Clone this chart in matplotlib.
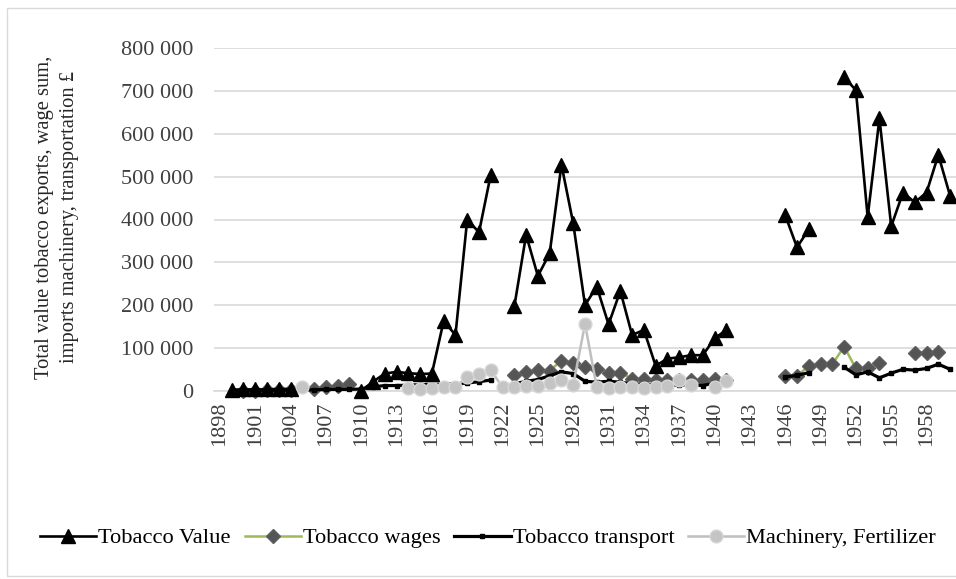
# Recreacion del grafico de exportaciones de tabaco (valor, salarios, transporte, maquinaria)

import numpy as np
import matplotlib.pyplot as plt
from matplotlib.patches import Rectangle
from matplotlib.ticker import FuncFormatter

nan = np.nan

# datos, un valor por año (1898-1960)
years = list(range(1898, 1961))

tobacco_value = [nan, 2000, 3000, 3000, 3000, 4000, 4000,            # 1898-1904
                 nan, nan, nan, nan, nan,                            # 1905-1909
                 0, 21000, 40000, 44000, 41000, 39000, 40000,        # 1910-1916
                 163000, 130000, 400000, 370000, 505000, nan,        # 1917-1922
                 197000, 364000, 268000, 321000, 528000, 391000,     # 1923-1928
                 200000, 243000, 155000, 233000, 130000, 142000,     # 1929-1934
                 58000, 75000, 78000, 83000, 83000, 122000, 142000,  # 1935-1941
                 nan, nan, nan, nan,                                 # 1942-1945
                 410000, 335000, 377000, nan, nan,                   # 1946-1950
                 733000, 702000, 406000, 636000, 384000,             # 1951-1955
                 463000, 440000, 463000, 551000, 455000]             # 1956-1960

tobacco_wages = [nan, nan, 0, 0, 1000, 1000, 1000,                   # 1898-1904
                 nan, 5000, 9000, 10000, 15000,                      # 1905-1909
                 nan, nan, nan, nan, nan, nan, nan,                  # 1910-1916
                 nan, nan, nan, nan, nan, nan,                       # 1917-1922
                 37000, 44000, 48000, 47000, 70000, 65000,           # 1923-1928
                 56000, 51000, 42000, 42000, 28000, 27000,           # 1929-1934
                 26000, 26000, 25000, 25000, 26000, 27000, 24000,    # 1935-1941
                 nan, nan, nan, nan,                                 # 1942-1945
                 34000, 34000, 58000, 62000, 62000,                  # 1946-1950
                 103000, 52000, 52000, 64000, nan,                   # 1951-1955
                 nan, 89000, 89000, 90000, nan]                      # 1956-1960

tobacco_transport = [nan, 1000, 1000, 1000, 1000, 1000, 1000,       # 1898-1904
                     2000, 2000, 3000, 3000, 3000,                   # 1905-1909
                     4000, 9000, 12000, 12000, 13000, 14000, 15000,  # 1910-1916
                     15000, 16000, 18000, 21000, 25000, nan,         # 1917-1922
                     16000, 22000, 26000, 35000, 44000, 40000,       # 1923-1928
                     22000, 20000, 22000, 20000, 16000, 15000,       # 1929-1934
                     13000, 13000, 13000, 14000, 12000, 18000, 20000,  # 1935-1941
                     nan, nan, nan, nan,                             # 1942-1945
                     32000, 36000, 42000, nan, nan,                  # 1946-1950
                     55000, 37000, 44000, 30000, 41000,              # 1951-1955
                     50000, 48000, 52000, 62000, 50000]              # 1956-1960

machinery = [nan, nan, nan, nan, nan, nan, nan,                      # 1898-1904
             9000, nan, nan, nan, nan,                               # 1905-1909
             nan, nan, nan, nan, 6000, 3000, 6000,                   # 1910-1916
             8000, 9000, 32000, 39000, 48000, 8000,                  # 1917-1922
             8000, 10000, 10000, 17000, 25000, 13000,                # 1923-1928
             156000, 8000, 6000, 8000, 8000, 6000,                   # 1929-1934
             8000, 10000, 24000, 13000, nan, 8000, 23000,            # 1935-1941
             nan, nan, nan, nan,                                     # 1942-1945
             nan, nan, nan, nan, nan,                                # 1946-1950
             nan, nan, nan, nan, nan,                                # 1951-1955
             nan, nan, nan, nan, nan]                                # 1956-1960

plt.rcParams['font.family'] = 'Liberation Serif'

fig = plt.figure(figsize=(9.56, 5.79), dpi=100)
W, H = 956, 579
ax = fig.add_axes([214 / W, 1 - 390.7 / H, (W - 214) / W, (390.7 - 48.3) / H])

# series (el valor del tabaco queda encima)
ax.plot(years, tobacco_wages, color='#9bbb59', lw=1.8, marker='D', ms=6.8,
        mfc='#555555', mec='#5f5f5f', label='Tobacco wages', zorder=3, clip_on=False)
ax.plot(years, tobacco_transport, color='black', lw=2.3, marker='s', ms=3,
        mfc='black', mec='black', label='Tobacco transport', zorder=4, clip_on=False)
ax.plot(years, machinery, color='#bfbfbf', lw=1.8, marker='o', ms=9.2,
        mfc='#c4c4c4', mec='#d6d6d6', mew=1, label='Machinery, Fertilizer', zorder=5, clip_on=False)
ax.plot(years, tobacco_value, color='black', lw=1.9, marker='^', ms=9.8,
        mfc='black', mec='black', label='Tobacco Value', zorder=6, clip_on=False)

ax.set_xlim(1897.5, 1960.5)
ax.set_ylim(0, 800000)
ax.set_yticks(range(0, 800001, 100000))
ax.yaxis.set_major_formatter(FuncFormatter(lambda v, p: f"{int(v):,}".replace(",", " ")))
ax.set_xticks(range(1898, 1961, 3))
ax.set_xticklabels([str(y) for y in range(1898, 1961, 3)], rotation=90)
ax.tick_params(axis='y', length=0, pad=15, labelsize=16, labelcolor='#404040')
ax.tick_params(axis='x', length=0, pad=8, labelsize=16, labelcolor='#404040')

ax.grid(axis='y', color='#d9d9d9', lw=1.2, zorder=0)
ax.set_axisbelow(True)
for s in ['top', 'right', 'left']:
    ax.spines[s].set_visible(False)
ax.spines['bottom'].set_color('#d9d9d9')
ax.spines['bottom'].set_linewidth(1.2)

fig.text(57 / W, 1 - 217 / H,
         "Total value tobacco exports, wage sum,\nimports machinery, transportation £",
         rotation=90, ha='center', va='center', multialignment='center',
         fontsize=14.8, linespacing=1.45, color='#262626')

# leyenda en el orden del original
h, l = ax.get_legend_handles_labels()
order = [3, 0, 1, 2]
fig.legend([h[i] for i in order], [l[i] for i in order], loc='center left',
           bbox_to_anchor=(40 / W, 1 - 538 / H), ncol=4, frameon=False,
           handlelength=2.5, handletextpad=0.1, columnspacing=0.6,
           borderpad=0, borderaxespad=0, fontsize=16.2)

# borde del area del grafico
fig.patches.append(Rectangle((7 / W, 1 - 576 / H), (970 - 7) / W, (576 - 8) / H,
                             transform=fig.transFigure, fill=False, ec='#d9d9d9', lw=1))

plt.savefig('out.png', dpi=100)
